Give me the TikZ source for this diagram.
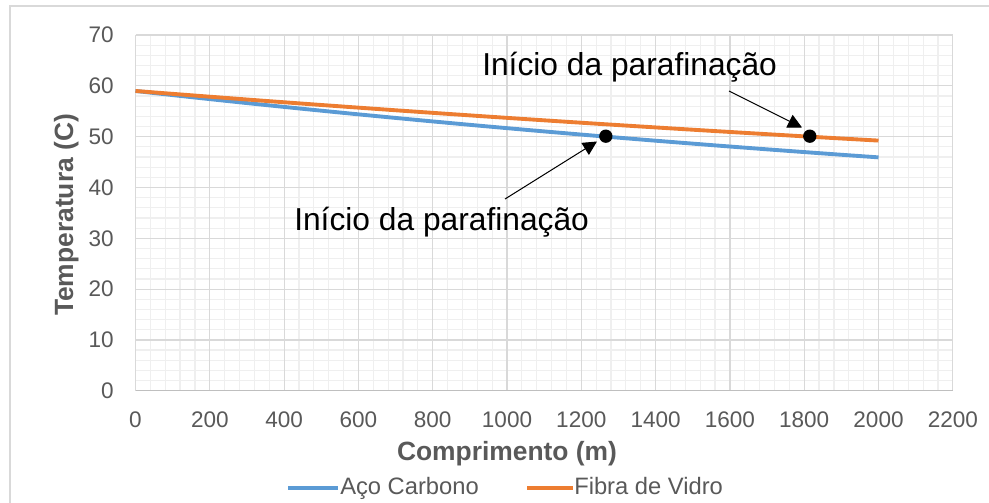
\documentclass[tikz,border=0pt]{standalone}
\usepackage{fontspec}
\setmainfont{Liberation Sans}
\usetikzlibrary{arrows.meta}
\definecolor{txtgray}{HTML}{595959}
\definecolor{majgrid}{HTML}{D9D9D9}
\definecolor{mingrid}{HTML}{EFEFEF}
\definecolor{axisgray}{HTML}{BFBFBF}
\definecolor{serblue}{HTML}{5B9BD5}
\definecolor{serorange}{HTML}{ED7D31}
\begin{document}
\begin{tikzpicture}[x=0.75pt,y=-0.75pt,
  declare function={X(\m)=135.5+0.3715*\m; Y(\t)=390.7-5.08*\t;},
  minorline/.style={draw=mingrid,line width=0.9pt},
  majorline/.style={draw=majgrid,line width=0.9pt},
  ticklab/.style={text=txtgray,font=\fontsize{16.9pt}{18pt}\selectfont,inner sep=0pt},
  axtitle/.style={text=txtgray,font=\fontsize{19.8pt}{22pt}\selectfont\bfseries,inner sep=0pt},
  legtext/.style={text=txtgray,font=\fontsize{17.8pt}{20pt}\selectfont,inner sep=0pt,anchor=base west},
  annot/.style={text=black,font=\fontsize{23.8pt}{26pt}\selectfont,inner sep=0pt,anchor=base west},
  series/.style={line width=2.9pt},
  dot/.style={circle,fill=black,inner sep=0pt,minimum size=10pt},
  pointer/.style={draw=black,line width=0.75pt,-{Triangle[length=10.5pt,width=10.5pt]}}]
\useasboundingbox (0,0) rectangle (989,503);
\fill[white] (0,0) rectangle (989,503);
% outer chart border
\draw[majgrid,line width=1pt] (10,6) rectangle (1000,515);
% minor grid
\foreach \i in {1,...,55}
  \draw[minorline] ({X(40*\i)},{Y(0)}) -- ({X(40*\i)},{Y(70)});
\foreach \j in {1,...,34}
  \draw[minorline] ({X(0)},{Y(2*\j)}) -- ({X(2200)},{Y(2*\j)});
% major grid
\foreach \m in {0,200,...,2200}
  \draw[majorline] ({X(\m)},{Y(0)}) -- ({X(\m)},{Y(70)});
\foreach \t in {10,20,...,70}
  \draw[majorline] ({X(0)},{Y(\t)}) -- ({X(2200)},{Y(\t)});
\draw[axisgray,line width=0.9pt] ({X(0)},{Y(0)}) -- ({X(2200)},{Y(0)});
% tick labels
\foreach \m in {0,200,...,2200}
  \node[ticklab] (xt\m) at ({X(\m)},419.5) {\m};
\foreach \t in {0,10,...,70}
  \node[ticklab,anchor=east] (yt\t) at (114,{Y(\t)}) {\t};
% axis titles
\node[axtitle,anchor=base] (xtitle) at (507,460) {Comprimento (m)};
\node[axtitle,anchor=base,rotate=90] (ytitle) at (73,215) {Temperatura (C)};
% series
\draw[series,serblue] plot[domain=0:2000,samples=60] ({X(\x)},{Y(25+34*exp(-\x/4122))});
\draw[series,serorange] plot[domain=0:2000,samples=60] ({X(\x)},{Y(25+34*exp(-\x/5902))});
% points
\node[dot] (d1) at ({X(1266)},{Y(50.1)}) {};
\node[dot] (d2) at ({X(1815)},{Y(50.1)}) {};
% annotations
\node[annot] (lab1) at (294,230.5) {Início da parafinação};
\node[annot] (lab2) at (482,75.5) {Início da parafinação};
\coordinate (a1s) at (505,199);
\coordinate (a1t) at (597,141.5);
\coordinate (a2s) at (729,91);
\coordinate (a2t) at (802,127.5);
\draw[pointer] (a1s) -- (a1t);
\draw[pointer] (a2s) -- (a2t);
% legend
\coordinate (lb1) at (288,488);
\coordinate (lb2) at (338,488);
\coordinate (lo1) at (527,488);
\coordinate (lo2) at (573,488);
\draw[serblue,line width=2.6pt] (lb1) -- (lb2);
\draw[serorange,line width=2.6pt] (lo1) -- (lo2);
\node[legtext] (leg1) at (340,494) {Aço Carbono};
\node[legtext] (leg2) at (574,494) {Fibra de Vidro};
\end{tikzpicture}
\end{document}
